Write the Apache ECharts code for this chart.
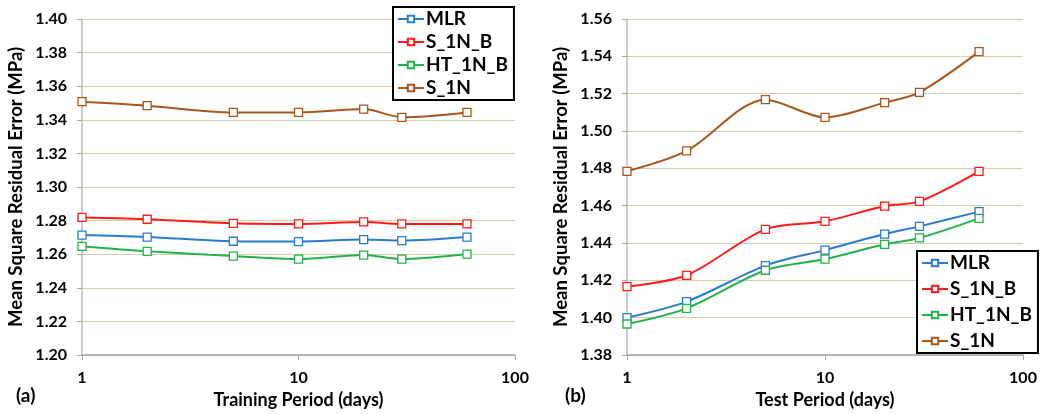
<!DOCTYPE html>
<html>
<head>
<meta charset="utf-8">
<script src="https://cdn.jsdelivr.net/npm/echarts@6/dist/echarts.min.js"></script>
<style>
  html, body { margin: 0; padding: 0; background: #fff; }
  #chart { width: 1047px; height: 414px; }
</style>
</head>
<body>
<div id="chart"></div>
<script>
// periods (days), shared by both panels
const periods = [1, 2, 5, 10, 20, 30, 60];

// (a) training period
const trainMLR = [1.2714, 1.2702, 1.2677, 1.2675, 1.2687, 1.2681, 1.2702];
const trainS1NB = [1.2819, 1.2808, 1.2784, 1.2780, 1.2792, 1.2780, 1.2780];
const trainHT1NB = [1.2647, 1.2617, 1.2589, 1.2571, 1.2595, 1.2571, 1.2601];
const trainS1N = [1.3508, 1.3484, 1.3444, 1.3444, 1.3464, 1.3415, 1.3444];

// (b) test period
const testMLR = [1.4000, 1.4086, 1.4279, 1.4362, 1.4448, 1.4489, 1.4568];
const testS1NB = [1.4166, 1.4227, 1.4473, 1.4516, 1.4598, 1.4623, 1.4784];
const testHT1NB = [1.3966, 1.4050, 1.4254, 1.4314, 1.4393, 1.4427, 1.4532];
const testS1N = [1.4784, 1.4893, 1.5168, 1.5073, 1.5152, 1.5207, 1.5425];

const seriesNames = ["MLR", "S_1N_B", "HT_1N_B", "S_1N"];
const seriesColors = ["#2a7bd0", "#ff1a1a", "#22b24c", "#a8561c"];

const FONT = "Lato";

const pairs = (ys) => periods.map((p, i) => [p, ys[i]]);

const makeSeries = (name, color, ys, idx) => ({
  name: name,
  type: "line",
  xAxisIndex: idx,
  yAxisIndex: idx,
  data: pairs(ys),
  smooth: 0.3,
  symbol: "rect",
  symbolSize: 8,
  showSymbol: true,
  lineStyle: { color: color, width: 2 },
  itemStyle: { color: "#fff", borderColor: color, borderWidth: 1.3 },
  emphasis: { disabled: true },
});

const xAxisBase = (idx, name) => ({
  type: "log",
  logBase: 10,
  gridIndex: idx,
  min: 1,
  max: 100,
  name: name,
  nameLocation: "middle",
  nameGap: 35,
  nameTextStyle: { fontFamily: FONT, fontWeight: "bold", fontSize: 18, color: "#000" },
  axisLine: { lineStyle: { color: "#a6a6a6", width: 1.5 } },
  axisTick: { show: true, length: 5, lineStyle: { color: "#a6a6a6" } },
  minorTick: { show: false },
  splitLine: { show: false },
  axisLabel: { fontFamily: FONT, fontWeight: "bold", fontSize: 16, color: "#000", margin: 15 },
});

const yAxisBase = (idx, min, max) => ({
  type: "value",
  gridIndex: idx,
  min: min,
  max: max,
  interval: 0.02,
  name: "Mean Square Residual Error (MPa)",
  nameLocation: "middle",
  nameGap: 56,
  nameTextStyle: { fontFamily: FONT, fontWeight: "bold", fontSize: 18.5, color: "#000" },
  axisLine: { show: true, lineStyle: { color: "#bdbdbd", width: 1.5 } },
  axisTick: { show: true, length: 5, lineStyle: { color: "#a6a6a6" } },
  splitLine: { show: true, lineStyle: { color: "#d4cfa6", width: 1.2 } },
  axisLabel: {
    fontFamily: FONT, fontWeight: "bold", fontSize: 16, color: "#000", margin: 15,
    formatter: (v) => v.toFixed(2),
  },
});

const legendBase = (pos, gap) => Object.assign({
  orient: "vertical",
  data: seriesNames,
  itemWidth: 26,
  itemHeight: 8,
  itemGap: gap,
  padding: [2, 6, 2, 4],
  borderColor: "#000",
  borderWidth: 2,
  backgroundColor: "#fff",
  textStyle: {
    fontFamily: FONT, fontWeight: "bold", fontSize: 19, lineHeight: 20,
    color: "#000", padding: [0, 0, 0, -3],
  },
  selectedMode: false,
}, pos);

const chart = echarts.init(document.getElementById("chart"), null, { renderer: "canvas" });

const option = {
  animation: false,
  backgroundColor: "#fff",
  grid: [
    { left: 82, top: 19, width: 433, height: 336 },
    { left: 627, top: 19, width: 396, height: 336 },
  ],
  xAxis: [xAxisBase(0, "Training Period (days)"), xAxisBase(1, "Test Period (days)")],
  yAxis: [yAxisBase(0, 1.2, 1.4), yAxisBase(1, 1.38, 1.56)],
  legend: [
    legendBase({ left: 393, top: 7 }, 3),
    legendBase({ left: 917, top: 251 }, 6),
  ],
  series: [
    makeSeries("MLR", seriesColors[0], trainMLR, 0),
    makeSeries("S_1N_B", seriesColors[1], trainS1NB, 0),
    makeSeries("HT_1N_B", seriesColors[2], trainHT1NB, 0),
    makeSeries("S_1N", seriesColors[3], trainS1N, 0),
    makeSeries("MLR", seriesColors[0], testMLR, 1),
    makeSeries("S_1N_B", seriesColors[1], testS1NB, 1),
    makeSeries("HT_1N_B", seriesColors[2], testHT1NB, 1),
    makeSeries("S_1N", seriesColors[3], testS1N, 1),
  ],
  graphic: [
    { type: "text", left: 16, top: 386, style: { text: "(a)", font: "bold 19px Lato", fill: "#000" } },
    { type: "text", left: 565, top: 386, style: { text: "(b)", font: "bold 19px Lato", fill: "#000" } },
  ],
};

chart.setOption(option);
</script>
</body>
</html>
